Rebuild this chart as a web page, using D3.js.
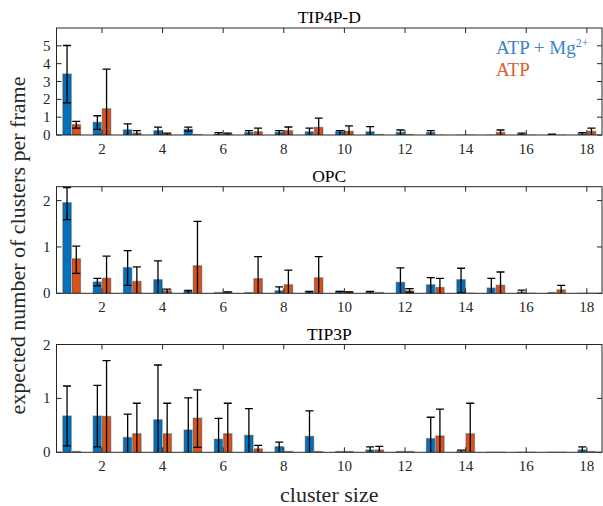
<!DOCTYPE html>
<html><head><meta charset="utf-8">
<script src="https://cdn.jsdelivr.net/npm/d3@7"></script>
<style>body{margin:0;background:#fff}svg{display:block}</style>
</head><body><svg id="c" width="603" height="506"></svg>
<script>
const clusterSizes = [1,2,3,4,5,6,7,8,9,10,11,12,13,14,15,16,17,18];
const xTicks = [2,4,6,8,10,12,14,16,18];
const seriesNames = ["ATP + Mg", "ATP"];
const panelTitles = ["TIP4P-D", "OPC", "TIP3P"];
const yTicks4 = [0,1,2,3,4,5];
const yTicksOpc = [0,1,2];
const yTicks3 = [0,1,2];

// TIP4P-D
const tip4pdMg     = [3.41,0.70,0.28,0.23,0.30,0.05,0.13,0.13,0.17,0.17,0.17,0.13,0.13,0.00,0.00,0.03,0.01,0.06];
const tip4pdMgHi   = [5.02,1.08,0.62,0.44,0.44,0.13,0.25,0.25,0.38,0.25,0.47,0.28,0.25,0.00,0.00,0.10,0.05,0.13];
const tip4pdMgLo   = [1.80,0.32,0.00,0.00,0.22,0.00,0.00,0.00,0.00,0.00,0.00,0.00,0.00,0.00,0.00,0.00,0.00,0.00];
const tip4pd       = [0.57,1.46,0.10,0.05,0.01,0.05,0.17,0.23,0.41,0.19,0.01,0.01,0.00,0.00,0.13,0.00,0.00,0.19];
const tip4pdHi     = [0.76,3.69,0.25,0.10,0.01,0.10,0.38,0.45,0.95,0.51,0.01,0.01,0.00,0.00,0.28,0.00,0.00,0.38];
const tip4pdLo     = [0.38,0.00,0.00,0.00,0.00,0.00,0.00,0.00,0.00,0.00,0.00,0.00,0.00,0.00,0.00,0.00,0.00,0.00];

// OPC
const opcMg        = [1.95,0.24,0.55,0.29,0.04,0.01,0.01,0.05,0.03,0.04,0.02,0.23,0.18,0.29,0.11,0.02,0.01,0.00];
const opcMgHi      = [2.28,0.32,0.92,0.70,0.06,0.01,0.01,0.14,0.04,0.04,0.04,0.55,0.34,0.54,0.32,0.07,0.01,0.00];
const opcMgLo      = [1.59,0.16,0.17,0.00,0.00,0.00,0.00,0.00,0.00,0.00,0.00,0.00,0.00,0.01,0.00,0.00,0.00,0.00];
const opc          = [0.74,0.32,0.25,0.05,0.59,0.02,0.31,0.18,0.33,0.03,0.01,0.05,0.12,0.00,0.17,0.00,0.07,0.00];
const opcHi        = [1.02,0.80,0.57,0.09,1.55,0.03,0.79,0.50,0.79,0.03,0.01,0.10,0.32,0.00,0.46,0.00,0.17,0.00];
const opcLo        = [0.43,0.00,0.00,0.00,0.00,0.00,0.00,0.00,0.00,0.00,0.00,0.02,0.00,0.00,0.00,0.00,0.00,0.00];

// TIP3P
const tip3pMg      = [0.67,0.67,0.27,0.60,0.41,0.24,0.31,0.10,0.29,0.01,0.04,0.01,0.25,0.01,0.00,0.00,0.00,0.04];
const tip3pMgHi    = [1.23,1.24,0.71,1.62,1.01,0.63,0.81,0.19,0.77,0.01,0.10,0.01,0.65,0.04,0.00,0.00,0.00,0.10];
const tip3pMgLo    = [0.12,0.10,0.00,0.00,0.00,0.00,0.00,0.00,0.00,0.00,0.00,0.00,0.00,0.00,0.00,0.00,0.00,0.00];
const tip3p        = [0.01,0.66,0.34,0.34,0.63,0.34,0.06,0.01,0.01,0.01,0.04,0.01,0.30,0.34,0.00,0.00,0.00,0.01];
const tip3pHi      = [0.01,1.70,0.91,0.91,1.16,0.91,0.13,0.01,0.01,0.01,0.11,0.01,0.80,0.91,0.00,0.00,0.00,0.01];
const tip3pLo      = [0.00,0.00,0.00,0.00,0.09,0.00,0.00,0.00,0.00,0.00,0.00,0.00,0.00,0.00,0.00,0.00,0.00,0.00];

const panels = [
  {title: panelTitles[0], yMax: 6, yTicks: yTicks4, top: 28, bottom: 135,
   series: [[tip4pdMg, tip4pdMgLo, tip4pdMgHi], [tip4pd, tip4pdLo, tip4pdHi]]},
  {title: panelTitles[1], yMax: 2.3, yTicks: yTicksOpc, top: 186.7, bottom: 293.3,
   series: [[opcMg, opcMgLo, opcMgHi], [opc, opcLo, opcHi]]},
  {title: panelTitles[2], yMax: 2, yTicks: yTicks3, top: 344.5, bottom: 452.3,
   series: [[tip3pMg, tip3pMgLo, tip3pMgHi], [tip3p, tip3pLo, tip3pHi]]}
];
const colors = ["#0072BD", "#D95319"];
const legendColors = ["#3a83c4", "#d8612c"];
const axisColor = "#262626";
const FONT = "Liberation Serif";
const left = 56.5, right = 602;

const svg = d3.select("#c");
const x = d3.scaleLinear().domain([0.5, 18.5]).range([left, right]);
const barW = 8;
const off = [-4.6, 4.6];

panels.forEach((p, pi) => {
  const y = d3.scaleLinear().domain([0, p.yMax]).range([p.bottom, p.top]);
  const g = svg.append("g");
  const clipId = "clip" + pi;
  svg.append("clipPath").attr("id", clipId).append("rect")
    .attr("x", left).attr("y", p.top).attr("width", right - left).attr("height", p.bottom - p.top);
  const plot = g.append("g").attr("clip-path", `url(#${clipId})`);

  p.series.forEach((s, si) => {
    const [vals, lo, hi] = s;
    const sg = plot.append("g");
    sg.selectAll("rect.h").data(clusterSizes).join("rect").attr("class", "h")
      .attr("x", d => x(d) + off[si] - barW / 2 - 1)
      .attr("y", (d, i) => y(vals[i]) - 1)
      .attr("width", barW + 2)
      .attr("height", (d, i) => Math.max(0, p.bottom - y(vals[i])) + 1)
      .attr("fill", "#c9c9c9");
    sg.selectAll("rect.b").data(clusterSizes).join("rect").attr("class", "b")
      .attr("x", d => x(d) + off[si] - barW / 2)
      .attr("y", (d, i) => y(vals[i]))
      .attr("width", barW)
      .attr("height", (d, i) => Math.max(0, p.bottom - y(vals[i])))
      .attr("fill", colors[si])
      .attr("stroke", "#333")
      .attr("stroke-opacity", 0.7)
      .attr("stroke-width", 0.6);
    const eg = plot.append("g").attr("stroke", "#000").attr("stroke-width", 1.3).attr("fill", "none");
    clusterSizes.forEach((d, i) => {
      if (hi[i] - vals[i] < 0.005 && vals[i] < 0.02) return;
      const cx = x(d) + off[si];
      eg.append("line").attr("x1", cx).attr("x2", cx).attr("y1", y(lo[i])).attr("y2", y(hi[i]));
      eg.append("line").attr("x1", cx - 4).attr("x2", cx + 4).attr("y1", y(hi[i])).attr("y2", y(hi[i]));
      if (lo[i] > 0) eg.append("line").attr("x1", cx - 4).attr("x2", cx + 4).attr("y1", y(lo[i])).attr("y2", y(lo[i]));
    });
  });

  g.append("rect").attr("x", left).attr("y", p.top).attr("width", right - left).attr("height", p.bottom - p.top)
    .attr("fill", "none").attr("stroke", axisColor).attr("stroke-width", 1);
  const tg = g.append("g").attr("stroke", axisColor).attr("stroke-width", 1);
  xTicks.forEach(t => {
    tg.append("line").attr("x1", x(t)).attr("x2", x(t)).attr("y1", p.bottom).attr("y2", p.bottom - 5);
    tg.append("line").attr("x1", x(t)).attr("x2", x(t)).attr("y1", p.top).attr("y2", p.top + 5);
  });
  p.yTicks.forEach(t => {
    tg.append("line").attr("x1", left).attr("x2", left + 5).attr("y1", y(t)).attr("y2", y(t));
    tg.append("line").attr("x1", right).attr("x2", right - 5).attr("y1", y(t)).attr("y2", y(t));
  });
  g.append("g").selectAll("text").data(xTicks).join("text")
    .attr("x", d => x(d)).attr("y", p.bottom + 18.5).attr("text-anchor", "middle")
    .attr("font-family", FONT).attr("font-size", 15).attr("fill", axisColor).text(d => d);
  g.append("g").selectAll("text").data(p.yTicks).join("text")
    .attr("x", left - 6).attr("y", d => y(d) + 5).attr("text-anchor", "end")
    .attr("font-family", FONT).attr("font-size", 15).attr("fill", axisColor).text(d => d);
  g.append("text").attr("x", (left + right) / 2).attr("y", p.top - 5).attr("text-anchor", "middle")
    .attr("font-family", FONT).attr("font-size", 17.5).attr("fill", "#000").text(p.title);
});

const lg = svg.append("g").attr("font-family", FONT).attr("font-size", 19);
const l1 = lg.append("text").attr("x", 496).attr("y", 54).attr("fill", legendColors[0]);
l1.append("tspan").text(seriesNames[0]);
l1.append("tspan").attr("font-size", 12).attr("dy", -7).text("2+");
lg.append("text").attr("x", 496).attr("y", 76).attr("fill", legendColors[1]).text(seriesNames[1]);

svg.append("text").attr("x", (left + right) / 2).attr("y", 502).attr("text-anchor", "middle")
  .attr("font-family", FONT).attr("font-size", 22).attr("fill", axisColor).text("cluster size");
svg.append("text").attr("transform", "translate(25,245.5) rotate(-90)").attr("text-anchor", "middle")
  .attr("font-family", FONT).attr("font-size", 22).attr("fill", axisColor).text("expected number of clusters per frame");
</script></body></html>
